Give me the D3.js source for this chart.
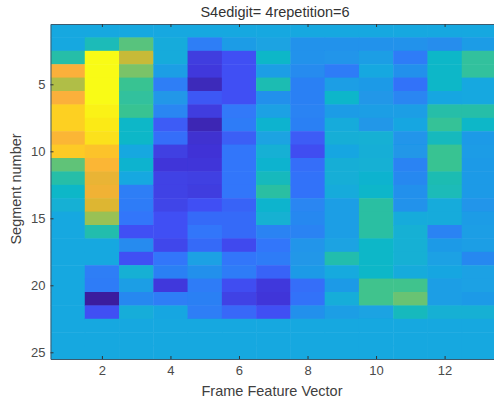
<!DOCTYPE html>
<html>
<head>
<meta charset="utf-8">
<script src="https://cdn.jsdelivr.net/npm/d3@7"></script>
<style>
html, body { margin: 0; padding: 0; background: #fff; overflow: hidden; }
text { font-family: "Liberation Sans", Arial, sans-serif; fill: #404040; }
</style>
</head>
<body>
<script>
// heatmap values, one array per feature column, rows are segments 1..25
var col1  = [5,5,6.6,10,8.5,10,11,11,10.2,10.8,7.5,6.6,6,5.5,5,5,5,5,5,5,5,5,5,5,5];
var col2  = [5,6.3,12,12,12,12,11.8,11.6,11.4,10.6,10.2,9.5,9.7,9.2,8.2,6.5,5,5,3.3,3.2,0,2,5,5,5];
var col3  = [5,7.4,8.8,7.8,7,6.8,7,6,6,5,5.7,5,3.3,3.2,3,2,3.8,2,5.5,4.6,3.7,5.3,5,5,5];
var col4  = [5,5.2,5.2,4.6,3.3,4.3,3.6,2.3,2.8,1.4,1.1,1.5,1.5,1.6,2,2,1.7,3,3.4,1.2,3.3,4.9,5,5,5];
var col5  = [5,3.3,1.3,1.2,0.5,2.2,1.3,0.4,0.9,1,1.1,1.4,1.3,2,2.7,3,2.7,4.7,4,3.2,3.4,3.3,5,5,5];
var col6  = [5,4.5,2,2,2,2,3.1,3.2,2.4,3,3,3,3,2.5,2.7,2.7,1.8,3,3.2,1.9,1.5,2.6,5,5,5];
var col7  = [5,4.8,6,4.6,6.4,4,4.7,5.7,4.8,5.5,5.7,6.2,6.7,5.8,5.6,3.5,3,3.2,2.5,1.2,1.1,2,5,5,5];
var col8  = [5,4.1,4.1,3.8,3.4,3.4,3.5,3.4,2.3,1.9,2.8,2.9,2.9,3.6,3.7,3.5,4.2,4.3,4.4,2.8,2.9,4,5,5,5];
var col9  = [5,4.1,4.2,3.2,4.6,5.9,4.5,5.2,5.4,4.9,5.4,5.4,5.2,4.6,4.6,4.6,4.8,6.5,5.1,4.4,5.3,4.6,5,5,5];
var col10 = [5,4.1,4.6,5,4.4,4.3,4.6,4.3,5.5,5.4,5.5,5.7,5.9,6.7,6.7,6.7,6,6,6,7.1,7.1,4.8,5,5,5];
var col11 = [5,4.1,3.2,4,2.9,3.6,4.6,4.9,4.2,4.3,3.5,3.7,4,4.1,5.2,5.5,5.5,5.5,5.2,7.1,7.6,6.2,5,5,5];
var col12 = [5,3.9,6,6,6,4.9,6.6,6.9,6.2,7,7,6.4,6.3,5.2,5.2,3.5,4.4,4.7,4.9,4.6,4.6,5.5,5,5,5];
var col13 = [5,4.5,6.8,6.8,5,5,6.6,6,4.4,4.5,4.4,4.4,4.4,4.2,4.5,4.6,4.6,3.7,4.7,4.7,4.4,5.5,5,5,5];
var columns = [col1,col2,col3,col4,col5,col6,col7,col8,col9,col10,col11,col12,col13];

var xTicks = [2,4,6,8,10,12];
var yTicks = [5,10,15,20,25];
var colorLevels = [0,1,2,3,4,5,6,7,8,9,10,11,12];
var colorRamp = ["#3a1f9e","#3f33d6","#4050f4","#3276fa","#2390ec","#18a8e0","#0eb7c8","#38c392","#8ac35e","#d6b82e","#fbb03a","#fdd021","#f9fb14"];

var width = 494, height = 401;
var margin = { top: 24, right: -2, bottom: 42, left: 50.5 };

var svg = d3.select("body").append("svg").attr("width", width).attr("height", height);

var xScale = d3.scaleLinear().domain([0.5, 13.5]).range([margin.left, width - margin.right]);
var yScale = d3.scaleLinear().domain([0.5, 25.5]).range([margin.top, height - margin.bottom]);
var color = d3.scaleLinear().domain(colorLevels).range(colorRamp);

// source is a soft screenshot, so blur the cells a touch
var defs = svg.append("defs");
defs.append("filter").attr("id", "soft").attr("x", 0).attr("y", 0).attr("width", 1).attr("height", 1)
    .append("feGaussianBlur").attr("stdDeviation", 0.6);
defs.append("clipPath").attr("id", "plotClip").append("rect")
    .attr("x", margin.left).attr("y", margin.top)
    .attr("width", width - margin.left + 2).attr("height", height - margin.top - margin.bottom);

var cells = [];
columns.forEach(function(values, c) {
    values.forEach(function(v, r) {
        cells.push({ col: c + 1, row: r + 1, value: v });
    });
});

svg.append("g").attr("clip-path", "url(#plotClip)")
    .append("g").attr("filter", "url(#soft)")
    .selectAll("rect").data(cells).enter().append("rect")
    .attr("x", d => xScale(d.col - 0.5))
    .attr("y", d => yScale(d.row - 0.5))
    .attr("width", d => xScale(d.col + 0.5) - xScale(d.col - 0.5) + 0.5)
    .attr("height", d => yScale(d.row + 0.5) - yScale(d.row - 0.5) + 0.5)
    .attr("fill", d => color(d.value));

function styleAxis(g) {
    g.selectAll("path").attr("stroke", "#3c5a6e").attr("stroke-width", 1);
    g.selectAll("line").attr("stroke", "#333");
    g.selectAll("text").attr("font-size", 13).style("fill", "#4a4a4a");
}

svg.append("g").attr("transform", "translate(0," + (height - margin.bottom) + ")")
    .call(d3.axisBottom(xScale).tickValues(xTicks).tickSizeInner(-3).tickSizeOuter(0).tickPadding(7))
    .call(styleAxis);
svg.append("g").attr("transform", "translate(0," + margin.top + ")")
    .call(d3.axisTop(xScale).tickValues(xTicks).tickSizeInner(-3).tickSizeOuter(0).tickFormat(""))
    .call(styleAxis);
svg.append("g").attr("transform", "translate(" + margin.left + ",0)")
    .call(d3.axisLeft(yScale).tickValues(yTicks).tickSizeInner(-3).tickSizeOuter(0).tickPadding(5))
    .call(styleAxis);

svg.append("text").attr("x", 275).attr("y", 17).attr("text-anchor", "middle")
    .attr("font-size", 14.5).style("fill", "#333").text("S4edigit= 4repetition=6");
svg.append("text").attr("x", 272).attr("y", 396).attr("text-anchor", "middle")
    .attr("font-size", 14.5).text("Frame Feature Vector");
svg.append("text").attr("transform", "translate(21,189) rotate(-90)").attr("text-anchor", "middle")
    .attr("font-size", 14.5).text("Segment number");
</script>
</body>
</html>
